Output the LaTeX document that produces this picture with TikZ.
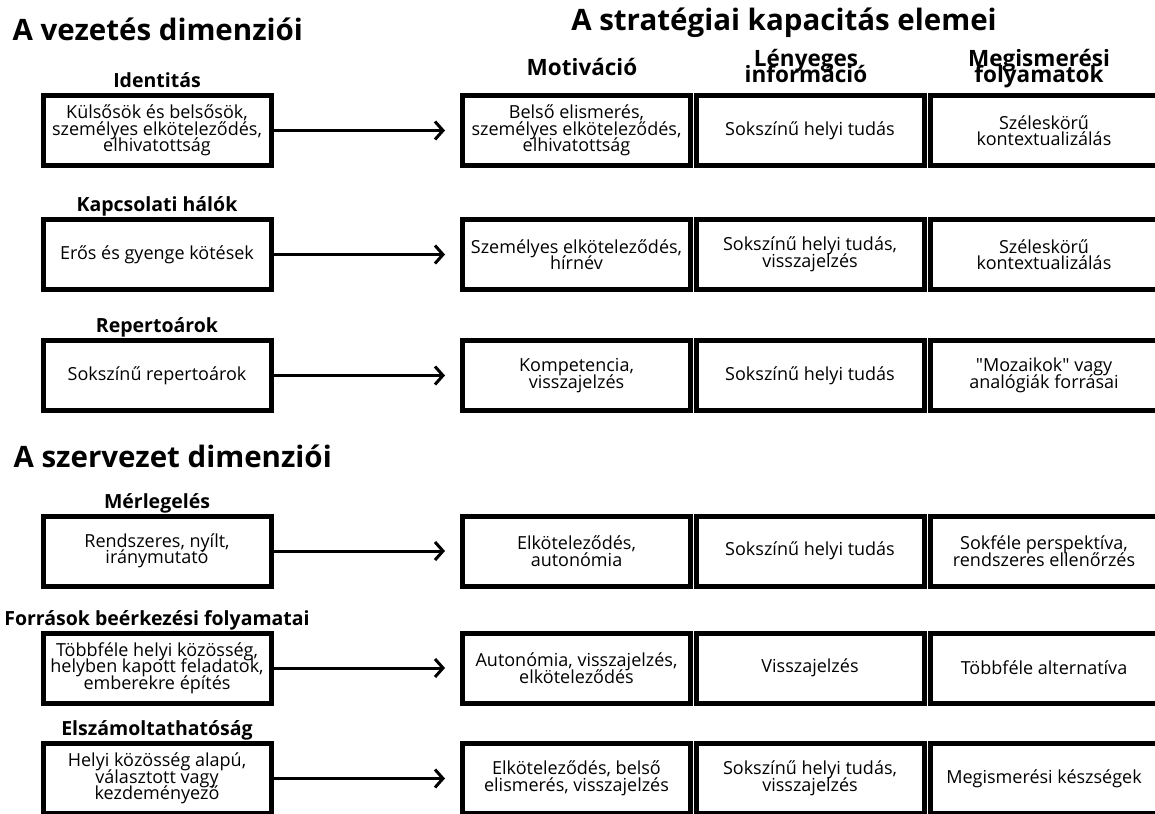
\documentclass[tikz,border=0pt]{standalone}
\usepackage{fontspec}
\setmainfont{Open Sans}[Ligatures=TeXOff]
\usetikzlibrary{arrows.meta}
\protected\def\tightlines{\lineskiplimit=-30pt\relax}

\begin{document}
\begin{tikzpicture}[x=1pt,y=-1pt,
		box/.style={draw,line width=5pt,minimum width=228pt,minimum height=70pt,inner sep=0pt,align=center,font=\fontsize{18}{16.5}\selectfont\tightlines},
		head/.style={anchor=base,font=\bfseries\fontsize{19.5}{19.5}\selectfont},
		colhead/.style={anchor=base,align=center,font=\bfseries\fontsize{22.5}{16.5}\selectfont\tightlines},
		title/.style={anchor=base west,font=\bfseries\fontsize{29.5}{30}\selectfont},
		arr/.style={line width=3pt,-{Straight Barb[length=8pt,width=18pt]},shorten >=15pt}]
			\useasboundingbox (0,0) rectangle (1155,813);
			\node[title] (tvez) at (9,41) {A vezetés dimenziói};
			\node[title,anchor=base] (tstr) at (784,31) {A stratégiai kapacitás elemei};
			\node[colhead] (hmot) at (582,76) {Motiváció};
			\node[colhead] (hinf) at (806,83) {Lényeges\\információ};
			\node[colhead] (hcog) at (1039,83) {Megismerési\\folyamatok};
			\node[head] (h1) at (157,87.5) {Identitás};
			\node[box] (l1) at (157,130.5) {Külsősök és belsősök,\\személyes elköteleződés,\\elhivatottság};
			\node[box] (m1) at (576.5,130.5) {Belső elismerés,\\személyes elköteleződés,\\elhivatottság};
			\node[box] (i1) at (810,130.5) {Sokszínű helyi tudás};
			\node[box] (c1) at (1044,130.5) {Széleskörű\\kontextualizálás};
			\draw[arr] (l1) -- (m1);
			\node[head] (h2) at (157,211.5) {Kapcsolati hálók};
			\node[box] (l2) at (157,254.5) {Erős és gyenge kötések};
			\node[box] (m2) at (576.5,254.5) {Személyes elköteleződés,\\hírnév};
			\node[box] (i2) at (810,254.5) {Sokszínű helyi tudás,\\visszajelzés};
			\node[box] (c2) at (1044,254.5) {Széleskörű\\kontextualizálás};
			\draw[arr] (l2) -- (m2);
			\node[head] (h3) at (157,332.5) {Repertoárok};
			\node[box] (l3) at (157,375.5) {Sokszínű repertoárok};
			\node[box] (m3) at (576.5,375.5) {Kompetencia,\\visszajelzés};
			\node[box] (i3) at (810,375.5) {Sokszínű helyi tudás};
			\node[box] (c3) at (1044,375.5) {"Mozaikok" vagy\\analógiák forrásai};
			\draw[arr] (l3) -- (m3);
			\node[title] (tsze) at (10,467) {A szervezet dimenziói};
			\node[head] (h4) at (157,508) {Mérlegelés};
			\node[box] (l4) at (157,551) {Rendszeres, nyílt,\\iránymutató};
			\node[box] (m4) at (576.5,551) {Elköteleződés,\\autonómia};
			\node[box] (i4) at (810,551) {Sokszínű helyi tudás};
			\node[box] (c4) at (1044,551) {Sokféle perspektíva,\\rendszeres ellenőrzés};
			\draw[arr] (l4) -- (m4);
			\node[head] (h5) at (157,625) {Források beérkezési folyamatai};
			\node[box] (l5) at (157,668) {Többféle helyi közösség,\\helyben kapott feladatok,\\emberekre építés};
			\node[box] (m5) at (576.5,668) {Autonómia, visszajelzés,\\elköteleződés};
			\node[box] (i5) at (810,668) {Visszajelzés};
			\node[box] (c5) at (1044,668) {Többféle alternatíva};
			\draw[arr] (l5) -- (m5);
			\node[head] (h6) at (157,735.5) {Elszámoltathatóság};
			\node[box] (l6) at (157,778.5) {Helyi közösség alapú,\\választott vagy\\kezdeményező};
			\node[box] (m6) at (576.5,778.5) {Elköteleződés, belső\\elismerés, visszajelzés};
			\node[box] (i6) at (810,778.5) {Sokszínű helyi tudás,\\visszajelzés};
			\node[box] (c6) at (1044,778.5) {Megismerési készségek};
			\draw[arr] (l6) -- (m6);
		\end{tikzpicture}
\end{document}
